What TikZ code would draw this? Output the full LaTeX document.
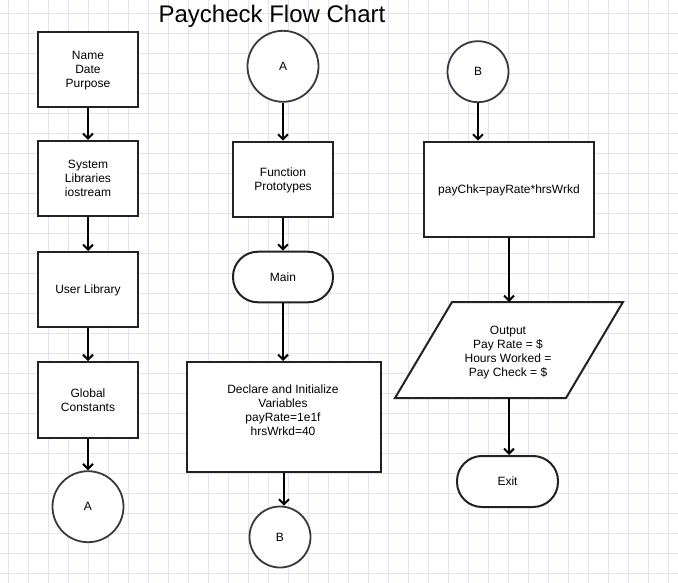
\documentclass[tikz,border=0pt]{standalone}
\usepackage{fontspec}
\setmainfont{Liberation Sans}
\usetikzlibrary{arrows.meta}
\definecolor{gridline}{RGB}{226,226,243}
\definecolor{edge}{RGB}{34,34,34}
\definecolor{ring}{RGB}{58,58,58}

\begin{document}
\begin{tikzpicture}[x=1pt,y=-1pt,
  every node/.style={font=\fontsize{12}{14}\selectfont, align=center, inner sep=0pt, text depth=0pt},
  procbox/.style={draw=edge, line width=2pt, fill=white, rectangle},
  connector/.style={draw=ring, line width=1.8pt, fill=white, circle},
  terminal/.style={draw=edge, line width=2pt, fill=white, rectangle, rounded corners=25pt},
  flow/.style={draw=black, line width=2pt, -{Straight Barb[length=5pt,width=10pt]}},
]
% page and background grid
\useasboundingbox (0,0) rectangle (678,583);
\fill[white] (0,0) rectangle (678,583);
\foreach \x in {8,28,...,668} \draw[gridline, line width=0.8pt] (\x,0) -- (\x,583);
\foreach \y in {13,33,...,573} \draw[gridline, line width=0.8pt] (0,\y) -- (678,\y);

% title
\node[font=\fontsize{24}{28}\selectfont, anchor=base] (title) at (272,22.7) {Paycheck Flow Chart};

% left column: program header
\node[procbox, minimum width=100pt, minimum height=75pt] (hdr) at (88,69.5) {Name\\Date\\Purpose};
\node[procbox, minimum width=100pt, minimum height=75pt] (syslib) at (88,178.5) {System\\Libraries\\iostream};
\node[procbox, minimum width=100pt, minimum height=75pt] (userlib) at (88,289.5) {User Library};
\node[procbox, minimum width=100pt, minimum height=76pt] (glob) at (88,400) {Global\\Constants};
\node[connector, minimum size=71pt] (offA) at (88,506.7) {A};

% middle column: prototypes, main and variables
\node[connector, minimum size=71pt] (onA) at (283,66.3) {A};
\node[procbox, minimum width=100.6pt, minimum height=75.6pt] (proto) at (283,179.5) {Function\\Prototypes};
\node[terminal, minimum width=100pt, minimum height=50.6pt] (main) at (283,277) {Main};
\node[procbox, minimum width=194pt, minimum height=110pt] (decl) at (284,417) {};
\node (decltxt) at (283,410.5) {Declare and Initialize\\Variables\\payRate=1e1f\\hrsWrkd=40};
\node[connector, minimum size=61pt] (offB) at (280,537) {B};

% right column: calculation and output
\node[connector, minimum size=61pt] (onB) at (478,71.7) {B};
\node[procbox, minimum width=170pt, minimum height=95pt] (calc) at (509,189.2) {payChk=payRate*hrsWrkd};
\draw[edge, line width=2pt, fill=white] (452,302) -- (623,302) -- (566,398) -- (395,398) -- cycle;
\coordinate (outN) at (509,302);
\coordinate (outS) at (509,398);
\node (outtxt) at (508,351) {Output\\Pay Rate = \$\\Hours Worked =\\Pay Check = \$};
\node[terminal, minimum width=101pt, minimum height=51pt] (exit) at (507.5,481.5) {Exit};

% connectors
\draw[flow] (hdr.south) -- (syslib.north);
\draw[flow] (syslib.south) -- (userlib.north);
\draw[flow] (userlib.south) -- (glob.north);
\draw[flow] (glob.south) -- (offA.north);

\draw[flow] (onA.south) -- (proto.north);
\draw[flow] (proto.south) -- (main.north);
\draw[flow] (main.south) -- (main.south |- decl.north);
\draw[flow] (decl.south) -- (decl.south |- offB.north);

\draw[flow] (onB.south) -- (onB.south |- calc.north);
\draw[flow] (calc.south) -- (outN);
\draw[flow] (outS) -- (outS |- exit.north);
\end{tikzpicture}
\end{document}
